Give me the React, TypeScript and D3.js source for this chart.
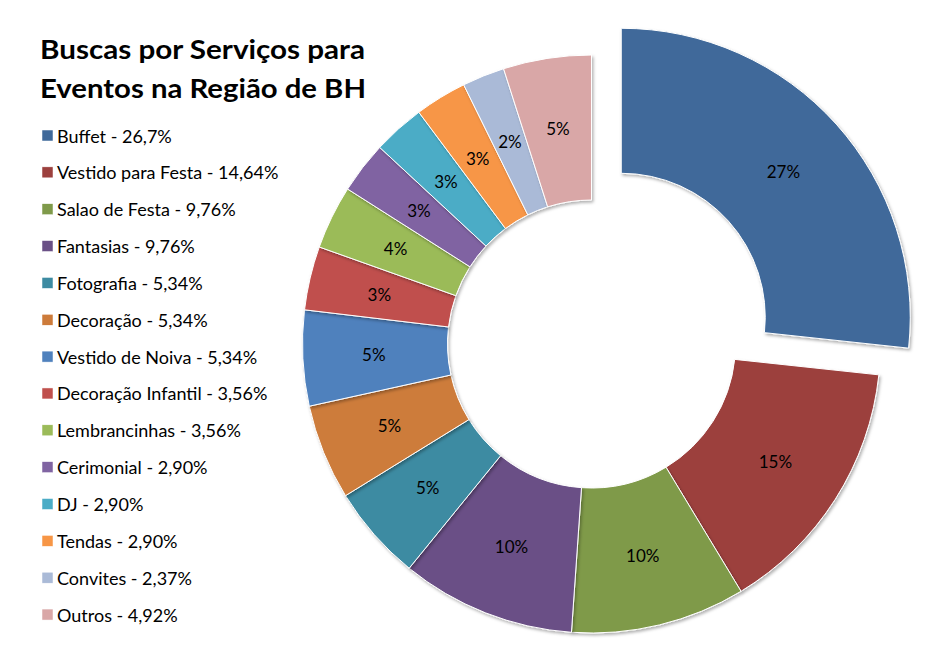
import React from "react";
import * as d3 from "d3";

const categories = [
  "Buffet", "Vestido para Festa", "Salao de Festa", "Fantasias", "Fotografia",
  "Decoração", "Vestido de Noiva", "Decoração Infantil", "Lembrancinhas",
  "Cerimonial", "DJ", "Tendas", "Convites", "Outros",
];
const values = [26.7, 14.64, 9.76, 9.76, 5.34, 5.34, 5.34, 3.56, 3.56, 2.9, 2.9, 2.9, 2.37, 4.92];
const legendValueLabels = ["26,7%", "14,64%", "9,76%", "9,76%", "5,34%", "5,34%", "5,34%", "3,56%", "3,56%", "2,90%", "2,90%", "2,90%", "2,37%", "4,92%"];
const sliceLabels = ["27%", "15%", "10%", "10%", "5%", "5%", "5%", "3%", "4%", "3%", "3%", "3%", "2%", "5%"];
const colors = [
  "#3F699A", "#9C403E", "#7F9A4A", "#6A5086", "#3D8BA2", "#CD7B3A", "#4F81BD",
  "#C0504D", "#9BBB59", "#8064A2", "#4BACC6", "#F79646", "#AABAD7", "#D9A7A7",
];
const titleLines = ["Buscas por Serviços para", "Eventos na Região de BH"];
const explodedIndex = 0;

export default function App() {
  const W = 937, H = 654;
  const cx = 591.5, cy = 344;
  const rIn = 144, rOut = 289, explode = 40, labelR = 218;

  const pie = d3.pie<number>().sort(null).value((d) => d).startAngle(0).endAngle(2 * Math.PI);
  const arcs = pie(values);
  const arc = d3.arc<d3.PieArcDatum<number>>().innerRadius(rIn).outerRadius(rOut);
  const labelArc = d3.arc<d3.PieArcDatum<number>>().innerRadius(labelR).outerRadius(labelR);

  const font = "Lato, 'Open Sans', sans-serif";

  return (
    <svg width={W} height={H} style={{ position: "absolute", left: 0, top: 0, background: "#fff" }}>
      <defs>
        <filter id="shadow" x="-20%" y="-20%" width="140%" height="140%">
          <feDropShadow dx="1.5" dy="2" stdDeviation="1.6" floodColor="#000" floodOpacity="0.3" />
        </filter>
      </defs>
      <g>
        {titleLines.map((t, i) => (
          <text key={i} x={40} y={59 + i * 39} fontFamily={font} fontWeight={700} fontSize={27}
            fill="#000" textLength={i === 0 ? 325 : 326} lengthAdjust="spacingAndGlyphs">{t}</text>
        ))}
      </g>
      <g transform={`translate(${cx},${cy})`}>
        {arcs.map((a, i) => {
          const mid = (a.startAngle + a.endAngle) / 2;
          const off = i === explodedIndex ? explode : 0;
          const dx = off * Math.sin(mid), dy = -off * Math.cos(mid);
          return (
            <g key={i} transform={`translate(${dx},${dy})`} filter="url(#shadow)">
              <path d={arc(a) || ""} fill={colors[i]} stroke="#fff" strokeWidth={1} />
            </g>
          );
        })}
        {arcs.map((a, i) => {
          const mid = (a.startAngle + a.endAngle) / 2;
          const off = i === explodedIndex ? explode : 0;
          const [lx, ly] = labelArc.centroid(a);
          return (
            <text key={"l" + i} x={lx + off * Math.sin(mid)} y={ly - off * Math.cos(mid)}
              textAnchor="middle" dominantBaseline="central" fontFamily={font} fontSize={17} fill="#000">
              {sliceLabels[i]}
            </text>
          );
        })}
      </g>
      <g>
        {categories.map((c, i) => {
          const y = 135.5 + i * 36.85;
          return (
            <g key={c}>
              <rect x={42} y={y - 5.5} width={11} height={11} fill={colors[i]} stroke="#fff" strokeWidth={0.5} />
              <text x={57} y={y} dominantBaseline="central" fontFamily={font} fontSize={18} fill="#000">
                {`${c} - ${legendValueLabels[i]}`}
              </text>
            </g>
          );
        })}
      </g>
    </svg>
  );
}
